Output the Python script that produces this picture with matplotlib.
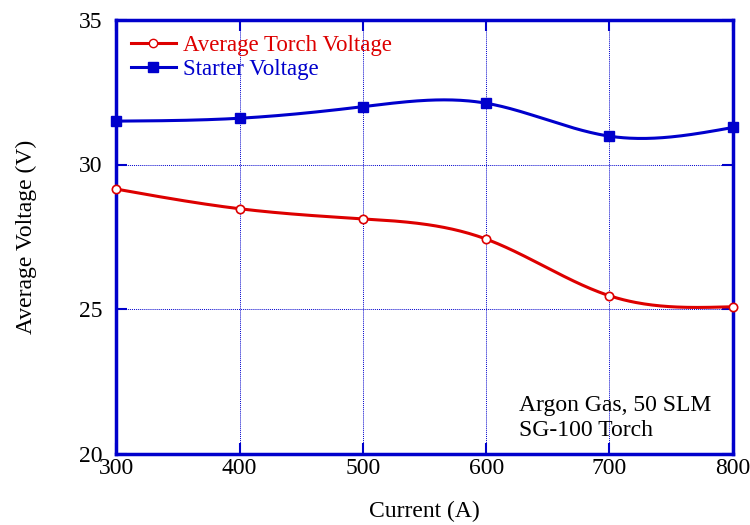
import numpy as np
import matplotlib
matplotlib.use('Agg')
from matplotlib import pyplot as plt

current = [300, 400, 500, 600, 700, 800]
torch_voltage = [29.15, 28.47, 28.12, 27.42, 25.46, 25.08]
starter_voltage = [31.5, 31.6, 32.0, 32.12, 30.98, 31.28]

x_ticks = [300, 400, 500, 600, 700, 800]
y_ticks = [20, 25, 30, 35]

plt.rcParams['font.family'] = ['Liberation Serif', 'DejaVu Serif']
plt.rcParams['font.size'] = 17

BLUE = '#0000cc'
RED = '#dd0000'


def natural_spline(x, y, n=300):
    # natural cubic spline through the points, used only for drawing the line
    x = np.asarray(x, float)
    y = np.asarray(y, float)
    k = len(x)
    h = np.diff(x)
    a = np.zeros((k, k))
    b = np.zeros(k)
    a[0, 0] = a[-1, -1] = 1
    for i in range(1, k - 1):
        a[i, i - 1] = h[i - 1]
        a[i, i] = 2 * (h[i - 1] + h[i])
        a[i, i + 1] = h[i]
        b[i] = 6 * ((y[i + 1] - y[i]) / h[i] - (y[i] - y[i - 1]) / h[i - 1])
    m = np.linalg.solve(a, b)
    xs = np.linspace(x[0], x[-1], n)
    idx = np.clip(np.searchsorted(x, xs) - 1, 0, k - 2)
    x0, x1 = x[idx], x[idx + 1]
    hh = x1 - x0
    t0 = x1 - xs
    t1 = xs - x0
    ys = (m[idx] * t0**3 + m[idx + 1] * t1**3) / (6 * hh) \
        + (y[idx] / hh - m[idx] * hh / 6) * t0 \
        + (y[idx + 1] / hh - m[idx + 1] * hh / 6) * t1
    return xs, ys


fig = plt.figure(figsize=(7.5, 5.25), dpi=100)
ax = fig.add_axes([0.155, 0.136, 0.822, 0.826])

xs, ys = natural_spline(current, torch_voltage)
ax.plot(xs, ys, color=RED, lw=2.2, zorder=3)
ax.plot(current, torch_voltage, 'o', color=RED, mfc='white', mec=RED,
        ms=6, mew=1.2, zorder=4, clip_on=False)

xs, ys = natural_spline(current, starter_voltage)
ax.plot(xs, ys, color=BLUE, lw=2.2, zorder=3)
ax.plot(current, starter_voltage, 's', color=BLUE, ms=6.5, zorder=4,
        clip_on=False)

# legend handles: line with a marker in the middle
h1, = ax.plot([], [], '-o', color=RED, mfc='white', mec=RED, ms=6, lw=2.2,
              label='Average Torch Voltage')
h2, = ax.plot([], [], '-s', color=BLUE, ms=6.5, lw=2.2, label='Starter Voltage')
leg = ax.legend(handles=[h1, h2], loc='upper left', frameon=False,
                fontsize=16.5, handlelength=1.95, handletextpad=0.3,
                labelspacing=0.12, borderaxespad=0.4, borderpad=0.25,
                numpoints=1)
for text, color in zip(leg.get_texts(), [RED, BLUE]):
    text.set_color(color)

ax.set_xlim(300, 800)
ax.set_ylim(20, 35)
ax.set_xticks(x_ticks)
ax.set_yticks(y_ticks)
ax.grid(True, color=BLUE, ls=(0, (1, 1)), lw=0.7)
ax.tick_params(direction='in', length=8, width=1.5, color=BLUE,
               top=True, right=True, labelsize=17)
ax.tick_params(axis='x', pad=3)
ax.tick_params(axis='y', pad=10)
for spine in ax.spines.values():
    spine.set_color(BLUE)
    spine.set_linewidth(2.5)

ax.set_xlabel('Current (A)', fontsize=17, labelpad=16)
ax.set_ylabel('Average Voltage (V)', fontsize=17, labelpad=30)

ax.text(0.653, 0.03, 'Argon Gas, 50 SLM\nSG-100 Torch', transform=ax.transAxes,
        fontsize=17, linespacing=1.2, va='bottom', ha='left')

fig.savefig('out.png', dpi=100)
